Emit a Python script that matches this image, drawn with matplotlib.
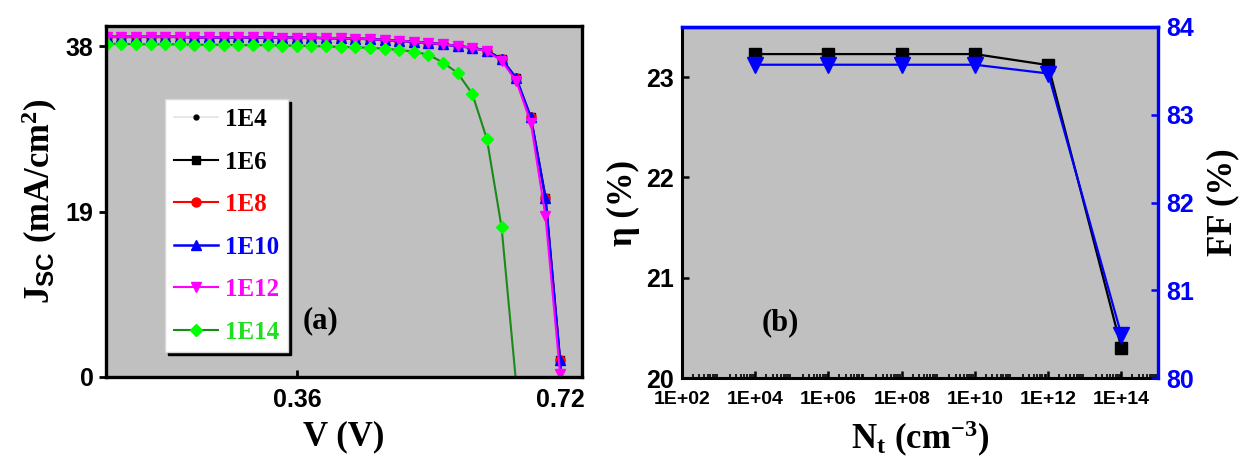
import math
import matplotlib
matplotlib.use("Agg")
import matplotlib.pyplot as plt
from matplotlib.ticker import FixedLocator, LogLocator, NullFormatter, FuncFormatter

plt.rcParams["mathtext.fontset"] = "custom"
plt.rcParams["mathtext.rm"] = "Liberation Serif:bold"
plt.rcParams["mathtext.it"] = "Liberation Serif:bold"
plt.rcParams["mathtext.bf"] = "Liberation Serif:bold"
plt.rcParams["mathtext.sf"] = "Liberation Sans:bold"

# ---------------- (a) J-V curves for different trap densities ----------------
voltage = [0.10, 0.12, 0.14, 0.16, 0.18, 0.20, 0.22, 0.24, 0.26, 0.28, 0.30,
           0.32, 0.34, 0.36, 0.38, 0.40, 0.42, 0.44, 0.46, 0.48, 0.50, 0.52,
           0.54, 0.56, 0.58, 0.60, 0.62, 0.64, 0.66, 0.68, 0.70, 0.72, 0.74]

j_1e4 = [39.05, 39.05, 39.05, 39.05, 39.05, 39.05, 39.0, 39.0, 39.0, 39.0, 39.0,
         39.0, 38.95, 38.95, 38.95, 38.9, 38.9, 38.85, 38.8, 38.7, 38.6, 38.5,
         38.35, 38.2, 38.0, 37.8, 37.45, 36.5, 34.3, 29.8, 20.6, 1.9, -45.0]
j_1e6 = [39.05, 39.05, 39.05, 39.05, 39.05, 39.05, 39.0, 39.0, 39.0, 39.0, 39.0,
         39.0, 38.95, 38.95, 38.95, 38.9, 38.9, 38.85, 38.8, 38.7, 38.6, 38.5,
         38.35, 38.2, 38.0, 37.8, 37.45, 36.5, 34.3, 29.8, 20.6, 1.9, -45.0]
j_1e8 = [39.05, 39.05, 39.05, 39.05, 39.05, 39.05, 39.0, 39.0, 39.0, 39.0, 39.0,
         39.0, 38.95, 38.95, 38.95, 38.9, 38.9, 38.85, 38.8, 38.7, 38.6, 38.5,
         38.35, 38.2, 38.0, 37.8, 37.45, 36.5, 34.3, 29.8, 20.6, 1.9, -45.0]
j_1e10 = [39.05, 39.05, 39.05, 39.05, 39.05, 39.05, 39.0, 39.0, 39.0, 39.0, 39.0,
          39.0, 38.95, 38.95, 38.95, 38.9, 38.9, 38.85, 38.8, 38.7, 38.6, 38.5,
          38.35, 38.2, 38.0, 37.8, 37.45, 36.5, 34.3, 29.8, 20.6, 1.9, -45.0]
j_1e12 = [39.05, 39.05, 39.05, 39.05, 39.05, 39.05, 39.0, 39.0, 39.0, 39.0, 39.0,
          39.0, 38.95, 38.95, 38.95, 38.9, 38.9, 38.85, 38.8, 38.7, 38.6, 38.5,
          38.35, 38.2, 38.0, 37.8, 37.4, 36.3, 34.0, 29.2, 18.5, 0.4, -46.0]
j_1e14 = [38.25, 38.25, 38.2, 38.2, 38.2, 38.2, 38.15, 38.15, 38.15, 38.1, 38.1,
          38.1, 38.05, 38.05, 38.0, 37.95, 37.9, 37.85, 37.8, 37.7, 37.55, 37.35,
          37.0, 36.1, 34.9, 32.5, 27.3, 17.2, -0.8]

series_labels = ["1E4", "1E6", "1E8", "1E10", "1E12", "1E14"]
v_ticks = [0.36, 0.72]
j_ticks = [0, 19, 38]

# ---------------- (b) efficiency and fill factor vs trap density ----------------
trap_density = [1e4, 1e6, 1e8, 1e10, 1e12, 1e14]
efficiency = [23.23, 23.23, 23.23, 23.23, 23.12, 20.30]
fill_factor = [83.57, 83.57, 83.57, 83.57, 83.47, 80.49]
nt_ticks = [1e2, 1e4, 1e6, 1e8, 1e10, 1e12, 1e14]
eta_ticks = [20, 21, 22, 23]
ff_ticks = [80, 81, 82, 83, 84]

W, H = 1241, 462
fig = plt.figure(figsize=(W / 100, H / 100), dpi=100)
panel_bg = "#c0c0c0"
label_font = dict(family="Liberation Serif", weight="bold", size=25)
blue = "#0000ff"


def frac(x0, y0, x1, y1):
    return [x0 / W, 1 - y1 / H, (x1 - x0) / W, (y1 - y0) / H]


def style_ticklabels(labels, size, color=None):
    for t in labels:
        t.set_fontfamily("Liberation Sans")
        t.set_fontweight("bold")
        t.set_fontsize(size)
        if color:
            t.set_color(color)


# ---------- panel (a) ----------
ax = fig.add_axes(frac(106, 26, 582, 377))
ax.set_facecolor(panel_bg)
styles = [
    dict(color="#e6e6e6", marker="o", ms=3.5, mfc="k", mec="k", lw=1.3),
    dict(color="k", marker="s", ms=6, mfc="k", mec="k", lw=1.5),
    dict(color="#ff0000", marker="o", ms=6.5, mfc="#ff0000", mec="#ff0000", lw=1.5),
    dict(color="#0000ff", marker="^", ms=7, mfc="#0000ff", mec="#0000ff", lw=1.8),
    dict(color="#ff00ff", marker="v", ms=7, mfc="#ff00ff", mec="#ff00ff", lw=1.5),
    dict(color="#1a8a1a", marker="D", ms=6, mfc="#00ff00", mec="#00ff00", lw=1.5),
]
text_colors = ["k", "k", "#ff0000", "#0000ff", "#ff00ff", "#22dd22"]
curves = [j_1e4, j_1e6, j_1e8, j_1e10, j_1e12, j_1e14]
for j, lab, st in zip(curves, series_labels, styles):
    ax.plot(voltage[:len(j)], j, label=lab, **st)

ax.set_xlim(0.099, 0.75)
ax.set_ylim(0, 40.3)
ax.xaxis.set_major_locator(FixedLocator(v_ticks))
ax.yaxis.set_major_locator(FixedLocator(j_ticks))
ax.xaxis.set_major_formatter(FuncFormatter(lambda v, p: f"{v:.2f}"))
ax.tick_params(axis="x", direction="in", length=5, width=2, pad=8)
ax.tick_params(axis="y", direction="out", length=5, width=2, pad=4)
style_ticklabels(ax.get_xticklabels() + ax.get_yticklabels(), 18)
for s in ax.spines.values():
    s.set_linewidth(2.4)
    s.set_color("k")
ax.set_xlabel("V (V)", labelpad=6, **label_font)
ax.set_ylabel(r"J$_{\mathsf{SC}}$ (mA/cm$^{2}$)", labelpad=4, **label_font)

leg = ax.legend(loc="upper left", bbox_to_anchor=(0.124, 0.791), borderaxespad=0,
                frameon=True, fancybox=False, shadow={"color": "k", "alpha": 1.0},
                prop=dict(family="Liberation Serif", weight="bold", size=18),
                handlelength=1.75, handletextpad=0.3, labelspacing=0.78,
                borderpad=0.35, markerscale=1.0)
leg.get_frame().set_edgecolor("#d8d8d8")
leg.get_frame().set_linewidth(1.0)
for txt, c in zip(leg.get_texts(), text_colors):
    txt.set_color(c)

ax.text(0.45, 0.16, "(a)", transform=ax.transAxes, ha="center", va="center",
        family="Liberation Serif", weight="bold", size=22)

# ---------- panel (b) ----------
bx = fig.add_axes(frac(682, 27, 1158, 378))
bx.set_facecolor(panel_bg)
bx.plot(trap_density, efficiency, color="k", marker="s", ms=8, lw=1.6)
bx.set_xscale("log")
bx.set_xlim(1e2, 1e15)
bx.set_ylim(20, 23.5)
bx.xaxis.set_major_locator(FixedLocator(nt_ticks))
bx.xaxis.set_minor_locator(LogLocator(base=10, subs=[2, 3, 4, 5, 6, 7, 8, 9], numticks=30))
bx.xaxis.set_minor_formatter(NullFormatter())
bx.xaxis.set_major_formatter(FuncFormatter(lambda v, p: "1E+%02d" % round(math.log10(v))))
bx.yaxis.set_major_locator(FixedLocator(eta_ticks))
bx.tick_params(axis="x", which="major", direction="in", length=5, width=1.8, pad=9)
bx.tick_params(axis="x", which="minor", direction="in", length=3, width=1.2)
bx.tick_params(axis="y", direction="in", length=5, width=1.8, pad=6)
style_ticklabels(bx.get_xticklabels(), 14)
style_ticklabels(bx.get_yticklabels(), 18)
bx.spines["left"].set_linewidth(2.2)
bx.spines["bottom"].set_linewidth(2.2)
bx.spines["top"].set_color(blue)
bx.spines["top"].set_linewidth(2.4)
bx.spines["right"].set_visible(False)
bx.set_ylabel("η (%)", labelpad=4, **label_font)
bx.set_xlabel(r"N$_{t}$ (cm$^{-3}$)", labelpad=8, **label_font)
bx.text(0.206, 0.157, "(b)", transform=bx.transAxes, ha="center", va="center",
        family="Liberation Serif", weight="bold", size=22)

fx = bx.twinx()
fx.plot(trap_density, fill_factor, color=blue, marker="v", ms=12, lw=1.6)
fx.set_ylim(80, 84)
fx.yaxis.set_major_locator(FixedLocator(ff_ticks))
fx.tick_params(axis="y", direction="in", length=5, width=1.8, pad=6, colors=blue)
style_ticklabels(fx.get_yticklabels(), 18, blue)
for side in ("left", "bottom"):
    fx.spines[side].set_visible(False)
fx.spines["right"].set_color(blue)
fx.spines["right"].set_linewidth(2.4)
fx.spines["top"].set_color(blue)
fx.spines["top"].set_linewidth(2.4)
fx.set_ylabel("FF (%)", labelpad=9, rotation=90, **label_font)

fig.savefig("out.png", dpi=100, facecolor="white")
